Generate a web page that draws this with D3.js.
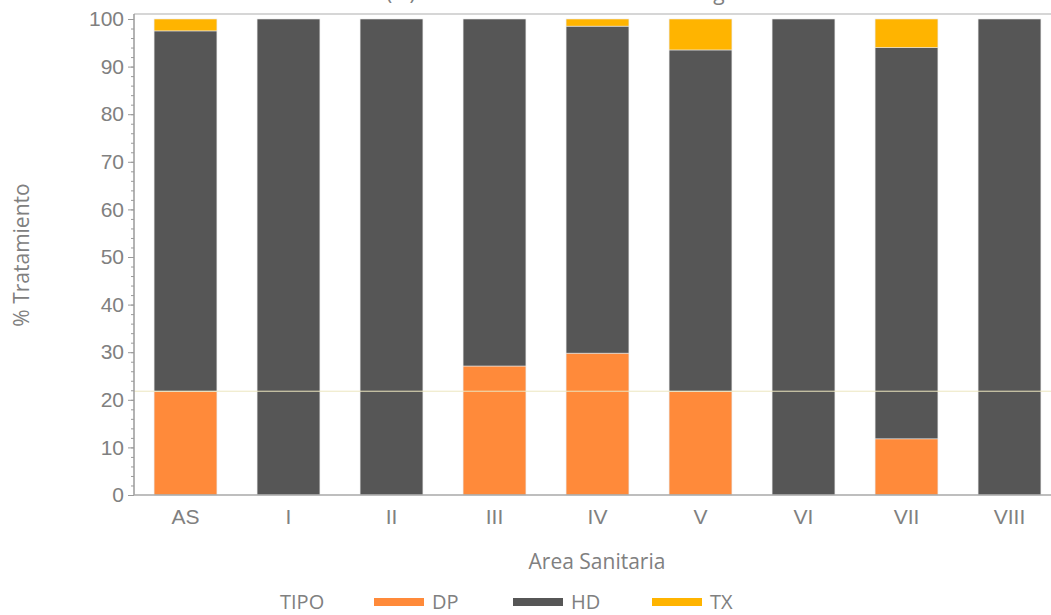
<!DOCTYPE html>
<html>
<head>
<meta charset="utf-8">
<script src="https://cdn.jsdelivr.net/npm/d3@7"></script>
<style>
  body { margin: 0; background: #fff; }
  svg { display: block; font-family: "Open Sans", sans-serif; }
</style>
</head>
<body>
<div id="chart"></div>
<script>
// Data
const areas = ["AS", "I", "II", "III", "IV", "V", "VI", "VII", "VIII"];
const tipos = ["DP", "HD", "TX"];
const dpValues = [21.8, 0, 0, 27.1, 29.8, 21.8, 0, 11.8, 0];
const hdValues = [75.7, 100, 100, 72.9, 68.7, 71.7, 100, 82.2, 100];
const txValues = [2.5, 0, 0, 0, 1.5, 6.5, 0, 6, 0];
const yTicks = [0, 10, 20, 30, 40, 50, 60, 70, 80, 90, 100];
const refValue = 21.8;

function chart() {
  const width = 1051;
  const height = 615;
  const colors = { DP: "#FF8A3A", HD: "#565656", TX: "#FFB400" };
  const textCol = "#808080";
  const fontSize = "21px";

  const rows = areas.map((a, i) => ({ area: a, DP: dpValues[i], HD: hdValues[i], TX: txValues[i] }));
  const series = d3.stack().keys(tipos)(rows);

  const x = d3.scaleBand()
    .domain(areas)
    .range([134, 1061])
    .paddingInner(0.39)
    .paddingOuter(0.195);
  const y = d3.scaleLinear().domain([0, 100]).range([495, 19]);

  const svg = d3.select("#chart")
    .append("svg")
    .attr("width", width)
    .attr("height", height);

  // Title (mostly cut off at top, as in the source)
  svg.append("text")
    .attr("x", 262)
    .attr("y", 0)
    .attr("fill", textCol)
    .style("font-size", fontSize)
    .text("Distribución (%) del Tratamiento Sustitutivo según Area Sanitaria");

  // Frame top line
  svg.append("line")
    .attr("x1", 134).attr("x2", width)
    .attr("y1", 14).attr("y2", 14)
    .attr("stroke", "#c8c8c8").attr("stroke-width", 1.5);

  // Bars
  svg.append("g")
    .selectAll("g")
    .data(series)
    .join("g")
    .attr("fill", (d) => colors[d.key])
    .selectAll("rect")
    .data((d) => d.filter((s) => s[1] - s[0] > 0))
    .join("rect")
    .attr("x", (d) => x(d.data.area))
    .attr("width", x.bandwidth())
    .attr("y", (d) => y(d[1]))
    .attr("height", (d) => y(d[0]) - y(d[1]))
    .attr("stroke", "#e6e6e6")
    .attr("stroke-width", 0.6);

  // Reference line
  svg.append("line")
    .attr("x1", 134).attr("x2", width)
    .attr("y1", y(refValue)).attr("y2", y(refValue))
    .attr("stroke", "#ece6bf").attr("stroke-width", 1);

  // Y axis with minor ticks
  const yAxis = svg.append("g").attr("transform", "translate(134,0)");
  yAxis.append("g")
    .call(d3.axisLeft(y).tickValues(d3.range(0, 101, 2)).tickSize(3).tickFormat(""))
    .call((g) => g.select(".domain").remove())
    .call((g) => g.selectAll("line").attr("stroke", "#9a9a9a"));
  yAxis.append("g")
    .call(d3.axisLeft(y).tickValues(yTicks).tickSize(6).tickPadding(4))
    .call((g) => g.select(".domain").remove())
    .call((g) => g.selectAll("line").attr("stroke", "#9a9a9a"))
    .call((g) => g.selectAll("text").attr("fill", textCol).style("font-size", fontSize));
  yAxis.append("line")
    .attr("y1", 14).attr("y2", 495)
    .attr("stroke", "#9a9a9a").attr("stroke-width", 1.5);

  // X axis
  const xAxis = svg.append("g").attr("transform", "translate(0,495)");
  xAxis.call(d3.axisBottom(x).tickSize(0).tickPadding(14))
    .call((g) => g.select(".domain").remove())
    .call((g) => g.selectAll("text").attr("fill", textCol).style("font-size", fontSize));
  xAxis.append("line")
    .attr("x1", 134).attr("x2", width)
    .attr("stroke", "#a8a8a8").attr("stroke-width", 1.5);

  // Axis titles
  svg.append("text")
    .attr("x", 597).attr("y", 569)
    .attr("text-anchor", "middle")
    .attr("fill", textCol)
    .style("font-size", fontSize)
    .text("Area Sanitaria");

  svg.append("text")
    .attr("transform", "translate(29,255) rotate(-90)")
    .attr("text-anchor", "middle")
    .attr("fill", textCol)
    .style("font-size", fontSize)
    .text("% Tratamiento");

  // Legend
  const legend = svg.append("g").attr("transform", "translate(0,602)");
  legend.append("text")
    .attr("x", 280).attr("y", 7)
    .attr("fill", textCol)
    .style("font-size", "20px")
    .text("TIPO");
  const lx = d3.scalePoint().domain(tipos).range([374, 652]);
  const items = legend.selectAll(".item")
    .data(tipos)
    .join("g")
    .attr("transform", (d) => `translate(${lx(d)},0)`);
  items.append("rect")
    .attr("x", 0).attr("y", -4)
    .attr("width", 50).attr("height", 8)
    .attr("fill", (d) => colors[d]);
  items.append("text")
    .attr("x", 58).attr("y", 7)
    .attr("fill", textCol)
    .style("font-size", "20px")
    .text((d) => d);
}

chart();
</script>
</body>
</html>
